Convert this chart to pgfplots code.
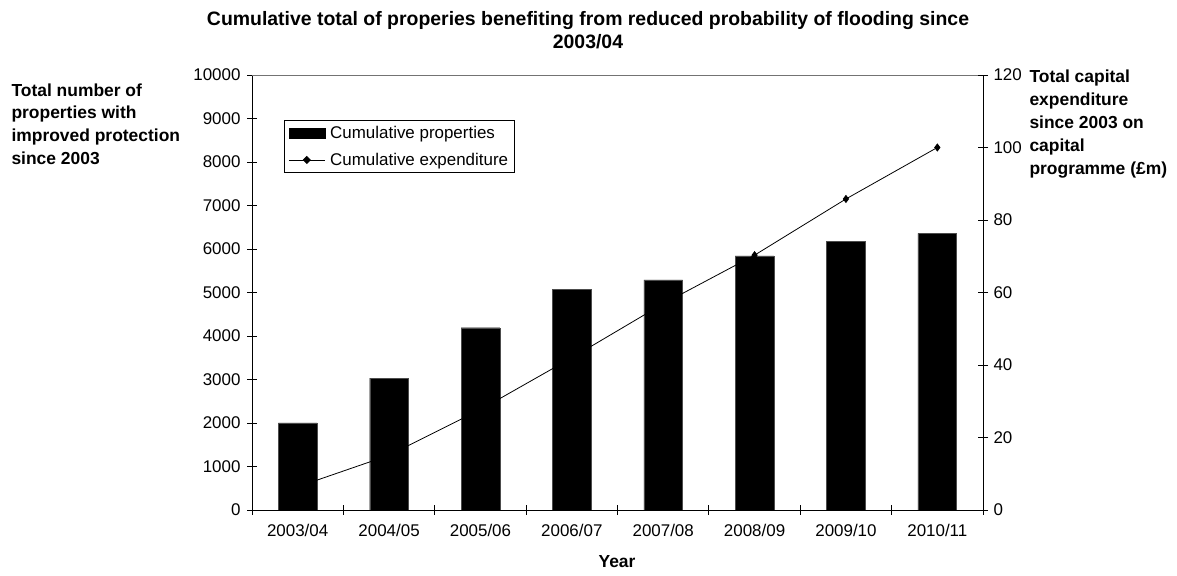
\documentclass[border=0pt]{standalone}
\usepackage{fontspec}
\setmainfont{Liberation Sans}
\usepackage{pgfplots}
\pgfplotsset{compat=1.18}

\pgfplotstableread{
x  props
0  2000
1  3030
2  4190
3  5075
4  5290
5  5840
6  6180
7  6360
}\propstable

\pgfplotstableread{
x  spend
0  6.4
1  15.1
2  27.7
3  42.0
4  56.9
5  70.3
6  85.8
7  100.0
}\spendtable

\newcommand{\tickfont}{\fontsize{17}{20}\selectfont}
\newcommand{\labfont}{\fontsize{17.5}{22.8}\selectfont\bfseries}

\begin{document}
\begin{tikzpicture}[x=1bp,y=1bp]
\useasboundingbox (0,0) rectangle (1177,576);

% left axis: cumulative properties as bars
\begin{axis}[
  at={(252bp,66bp)}, anchor=south west,
  scale only axis, width=731bp, height=435bp,
  xmin=-0.5, xmax=7.5, ymin=0, ymax=10000,
  ytick={0,1000,...,10000},
  scaled y ticks=false,
  xtick={0,...,7},
  xticklabels={2003/04,2004/05,2005/06,2006/07,2007/08,2008/09,2009/10,2010/11},
  minor xtick={-0.5,0.5,...,7.5},
  axis x line*=bottom, axis y line*=left,
  axis line style={-, line width=0.8bp, black},
  tick align=center,
  major tick length=10bp, minor tick length=10bp,
  major x tick style={draw=none},
  minor x tick style={line width=0.8bp, black},
  major y tick style={line width=0.8bp, black},
  /pgf/number format/assume math mode=true,
  /pgf/number format/1000 sep={},
  tick label style={font=\tickfont},
  xticklabel style={yshift=-6bp},
  yticklabel style={xshift=-3bp},
  legend style={at={(0.0438,0.8966)}, anchor=north west,
    draw=black, line width=0.8bp, font=\tickfont,
    inner xsep=4bp, inner ysep=4bp, row sep=9bp,
    cells={anchor=west}},
  legend cell align=left,
]
\addplot[ybar, bar width=38.7bp, fill=black, draw=black!70, line width=0.4bp,
  legend image code/.code={\fill[black] (0bp,-5bp) rectangle (36bp,5bp);}]
  table[x=x, y=props] {\propstable};
\addlegendentry{\hspace{3bp}Cumulative properties}
\addlegendimage{black, line width=0.8bp, mark=diamond*, mark size=3.5bp,
  legend image code/.code={\draw[black, line width=0.8bp] (0bp,0bp) -- (36bp,0bp);
    \fill[black] (18bp,0bp) +(0,3.5bp) -- +(3.5bp,0) -- +(0,-3.5bp) -- +(-3.5bp,0) -- cycle;}}
\addlegendentry{\hspace{3bp}Cumulative expenditure}
\draw[black!55, line width=0.8bp] (rel axis cs:0,1) -- (rel axis cs:1,1);
\end{axis}

% right axis: cumulative expenditure as a line
\begin{axis}[
  at={(252bp,66bp)}, anchor=south west,
  scale only axis, width=731bp, height=435bp,
  xmin=-0.5, xmax=7.5, ymin=0, ymax=120,
  ytick={0,20,...,120},
  axis y line*=right, axis x line=none,
  axis line style={-, line width=0.8bp, black},
  tick align=center,
  major tick length=10bp,
  major y tick style={line width=0.8bp, black},
  /pgf/number format/assume math mode=true,
  tick label style={font=\tickfont},
  yticklabel style={xshift=2bp},
]
\addplot[black, line width=0.8bp, mark=diamond*, mark size=3.5bp]
  table[x=x, y=spend] {\spendtable};
\end{axis}

% titles and axis labels
\node[font=\fontsize{19.5}{23}\selectfont\bfseries, align=center, anchor=north]
  at (588,568) {Cumulative total of properies benefiting from reduced probability of flooding since\\2003/04};
\node[font=\labfont, align=left, anchor=north west] at (8,496)
  {Total number of\\properties with\\improved protection\\since 2003};
\node[font=\fontsize{17.5}{23.2}\selectfont\bfseries, align=left, anchor=north west] at (1026,510)
  {Total capital\\expenditure\\since 2003 on\\capital\\programme (\pounds m)};
\node[font=\labfont] at (617,14) {Year};
\end{tikzpicture}
\end{document}
